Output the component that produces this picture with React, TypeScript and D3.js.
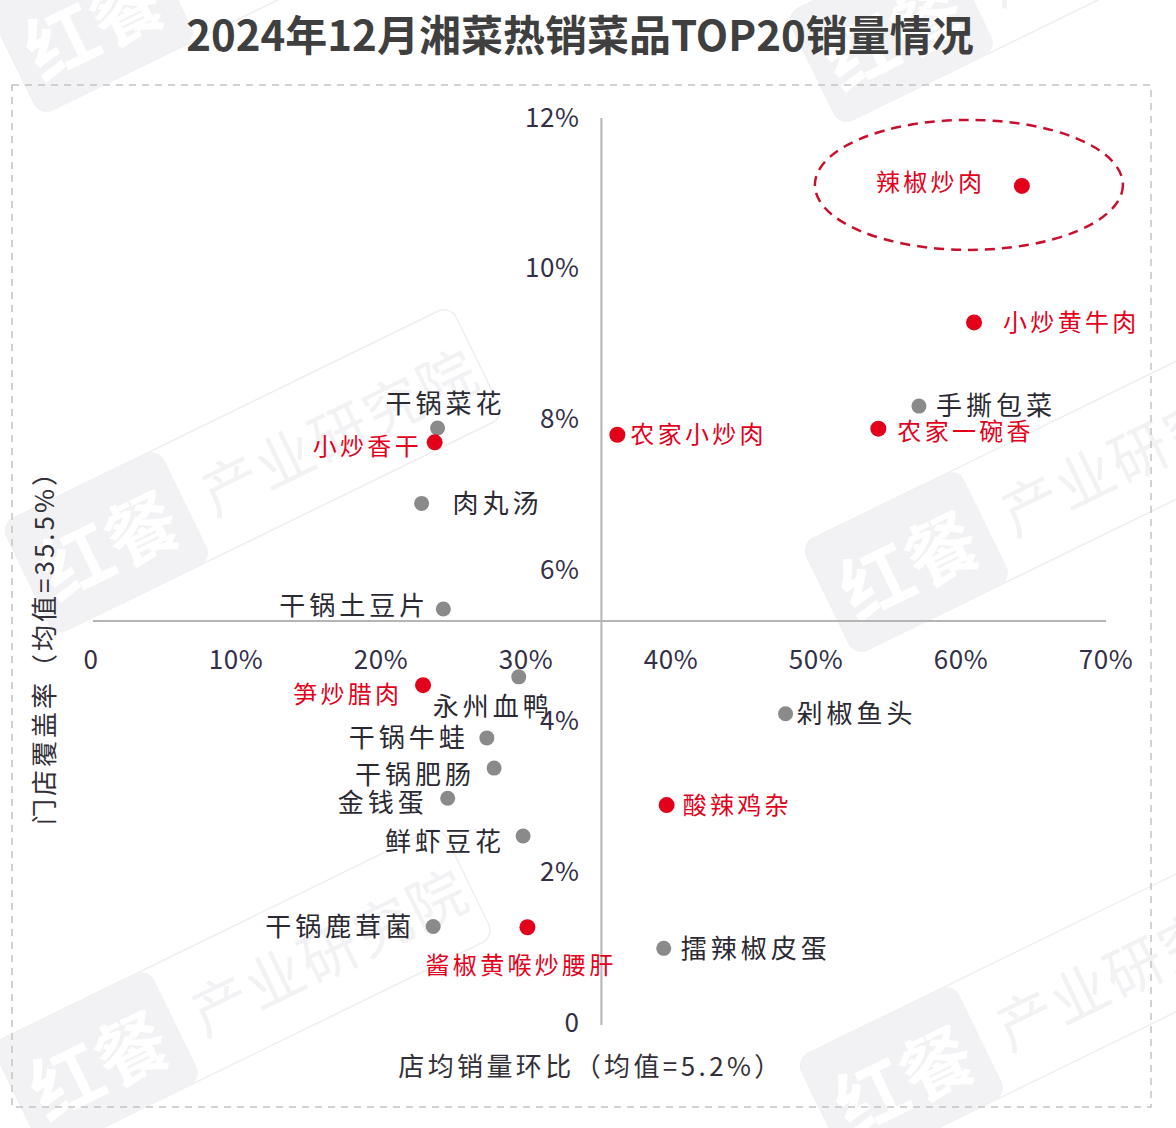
import { useEffect, useRef } from 'react';
import * as d3 from 'd3';

// dishes, x = 门店覆盖率 (%), y = 店均销量环比 (%)
const dishes = [
  '辣椒炒肉', '小炒黄牛肉', '手撕包菜', '农家一碗香', '农家小炒肉',
  '干锅菜花', '小炒香干', '肉丸汤', '干锅土豆片', '笋炒腊肉',
  '永州血鸭', '剁椒鱼头', '干锅牛蛙', '干锅肥肠', '金钱蛋',
  '酸辣鸡杂', '鲜虾豆花', '干锅鹿茸菌', '酱椒黄喉炒腰肝', '擂辣椒皮蛋',
];
const coverage = [
  64.2, 60.9, 57.1, 54.3, 36.3,
  23.9, 23.7, 22.8, 24.3, 22.9,
  29.5, 47.9, 27.3, 27.8, 24.6,
  39.7, 29.8, 23.6, 30.1, 39.5,
];
const salesChange = [
  11.1, 9.29, 8.18, 7.88, 7.80,
  7.89, 7.70, 6.89, 5.49, 4.48,
  4.59, 4.10, 3.78, 3.38, 2.98,
  2.89, 2.48, 1.28, 1.27, 0.99,
];
const highlighted = [
  '辣椒炒肉', '小炒黄牛肉', '农家一碗香', '农家小炒肉', '小炒香干',
  '笋炒腊肉', '酸辣鸡杂', '酱椒黄喉炒腰肝',
];
const xTicks = [0, 10, 20, 30, 40, 50, 60, 70];
const yTicks = [0, 2, 4, 6, 8, 10, 12];
const xMean = 35.2;
const yMean = 5.33;

const title = '2024年12月湘菜热销菜品TOP20销量情况';
const xTitle = '店均销量环比（均值=5.2%）';
const yTitle = '门店覆盖率（均值=35.5%）';

// label placement relative to the dot: [anchor, dx, dy]
const labelLayout: Record<string, [string, number, number]> = {
  '辣椒炒肉': ['end', -40, -3],
  '小炒黄牛肉': ['start', 29, 0],
  '手撕包菜': ['start', 17, -1],
  '农家一碗香': ['start', 19, 3],
  '农家小炒肉': ['start', 13, 0],
  '干锅菜花': ['middle', 6, -24],
  '小炒香干': ['end', -16, 4],
  '肉丸汤': ['start', 31, 0],
  '干锅土豆片': ['end', -18, -3],
  '笋炒腊肉': ['end', -24, 9],
  '永州血鸭': ['middle', -28, 30],
  '剁椒鱼头': ['start', 11, 0],
  '干锅牛蛙': ['end', -22, 0],
  '干锅肥肠': ['end', -23, 6],
  '金钱蛋': ['end', -24, 4],
  '酸辣鸡杂': ['start', 16, 0],
  '鲜虾豆花': ['end', -22, 6],
  '干锅鹿茸菌': ['end', -22, 0],
  '酱椒黄喉炒腰肝': ['middle', -8, 38],
  '擂辣椒皮蛋': ['start', 17, 0],
};

const FONT = '"Noto Sans CJK SC", "Noto Sans", sans-serif';
const RED = '#e3001b';

export default function App() {
  const svgRef = useRef<SVGSVGElement>(null);

  useEffect(() => {
    if (!svgRef.current) return;
    const W = 1176;
    const H = 1128;
    const svg = d3.select(svgRef.current);
    svg.selectAll('*').remove();
    svg.attr('width', W).attr('height', H).attr('font-family', FONT);

    svg.append('rect').attr('width', W).attr('height', H).attr('fill', '#ffffff');

    // faint watermarks
    const marks = [[85, 25], [885, 35], [100, 545], [900, 565], [90, 1065], [895, 1080]];
    marks.forEach(([mx, my]) => {
      const wm = svg.append('g').attr('transform', `translate(${mx},${my}) rotate(-26)`);
      wm.append('rect')
        .attr('x', -80).attr('y', -62).attr('width', 500).attr('height', 124).attr('rx', 14)
        .attr('fill', 'none').attr('stroke', '#eeeef0').attr('stroke-width', 1.5);
      wm.append('rect')
        .attr('x', -80).attr('y', -62).attr('width', 175).attr('height', 124).attr('rx', 14)
        .attr('fill', '#f2f2f4');
      wm.append('text')
        .attr('x', 8).attr('y', 0).attr('dominant-baseline', 'central').attr('text-anchor', 'middle')
        .attr('font-size', 72).attr('font-weight', 700).attr('fill', '#ffffff')
        .text('红餐');
      wm.append('text')
        .attr('x', 115).attr('y', 0).attr('dominant-baseline', 'central')
        .attr('font-size', 58).attr('fill', '#f2f2f4').attr('letter-spacing', 2)
        .text('产业研究院');
    });

    // title
    svg.append('text')
      .attr('x', 580).attr('y', 32)
      .attr('text-anchor', 'middle').attr('dominant-baseline', 'central')
      .attr('font-size', 42).attr('font-weight', 700).attr('fill', '#3f3f3f')
      .text(title);

    // dashed frame
    svg.append('rect')
      .attr('x', 12).attr('y', 85).attr('width', 1139).attr('height', 1022)
      .attr('fill', 'none').attr('stroke', '#c4c4c4').attr('stroke-width', 1.5)
      .attr('stroke-dasharray', '7,6');

    const x = d3.scaleLinear().domain([0, 70]).range([91, 1106]);
    const y = d3.scaleLinear().domain([0, 12]).range([1023, 118]);

    // quadrant axes
    svg.append('line')
      .attr('x1', x(xMean)).attr('x2', x(xMean))
      .attr('y1', y(12)).attr('y2', y(0) + 2)
      .attr('stroke', '#b5b5b5').attr('stroke-width', 2);
    svg.append('line')
      .attr('x1', x(0) + 2).attr('x2', x(70))
      .attr('y1', y(yMean)).attr('y2', y(yMean))
      .attr('stroke', '#b5b5b5').attr('stroke-width', 2);

    const fmt = (v: number) => (v === 0 ? '0' : `${v}%`);

    svg.append('g').selectAll('text')
      .data(yTicks)
      .join('text')
      .attr('x', x(xMean) - 22)
      .attr('y', d => y(d) - 3)
      .attr('text-anchor', 'end').attr('dominant-baseline', 'central')
      .attr('font-size', 26).attr('fill', '#332f48').attr('letter-spacing', 0.5)
      .text(fmt);

    svg.append('g').selectAll('text')
      .data(xTicks)
      .join('text')
      .attr('x', d => x(d))
      .attr('y', y(yMean) + 36)
      .attr('text-anchor', 'middle').attr('dominant-baseline', 'central')
      .attr('font-size', 26).attr('fill', '#332f48').attr('letter-spacing', 0.5)
      .text(fmt);

    // axis titles
    svg.append('text')
      .attr('x', 591).attr('y', 1064)
      .attr('text-anchor', 'middle').attr('dominant-baseline', 'central')
      .attr('font-size', 26).attr('fill', '#333038').attr('letter-spacing', 3.4)
      .text(xTitle);
    svg.append('text')
      .attr('transform', 'translate(42,641) rotate(-90)')
      .attr('text-anchor', 'middle').attr('dominant-baseline', 'central')
      .attr('font-size', 26).attr('fill', '#333038').attr('letter-spacing', 3)
      .text(yTitle);

    // highlight ellipse round the top dish
    svg.append('ellipse')
      .attr('cx', x(coverage[0]) - 53).attr('cy', y(salesChange[0]) - 1)
      .attr('rx', 154).attr('ry', 65)
      .attr('fill', 'none').attr('stroke', '#c8102e').attr('stroke-width', 2.5)
      .attr('stroke-dasharray', '10,7');

    const data = dishes.map((name, i) => ({
      name,
      cx: coverage[i],
      cy: salesChange[i],
      red: highlighted.includes(name),
    }));

    svg.append('g').selectAll('circle')
      .data(data)
      .join('circle')
      .attr('cx', d => x(d.cx))
      .attr('cy', d => y(d.cy))
      .attr('r', d => (d.red ? 8 : 7.5))
      .attr('fill', d => (d.red ? RED : '#8a8a8a'));

    svg.append('g').selectAll('text')
      .data(data)
      .join('text')
      .each(function (d) {
        const [anchor, dx, dy] = labelLayout[d.name];
        const ls = d.red ? 3.3 : 4;
        // svg letter-spacing leaves a trailing gap; shift so the ink sits where it should
        const shift = anchor === 'end' ? ls : anchor === 'middle' ? ls / 2 : 0;
        d3.select(this)
          .attr('x', x(d.cx) + dx + shift)
          .attr('y', y(d.cy) + dy - 2)
          .attr('text-anchor', anchor)
          .attr('dominant-baseline', 'central')
          .attr('font-size', d.red ? 24 : 26)
          .attr('letter-spacing', ls)
          .attr('fill', d.red ? RED : '#2b2a33')
          .text(d.name);
      });
  }, []);

  return <svg ref={svgRef} style={{ position: 'absolute', left: 0, top: 0 }} />;
}
